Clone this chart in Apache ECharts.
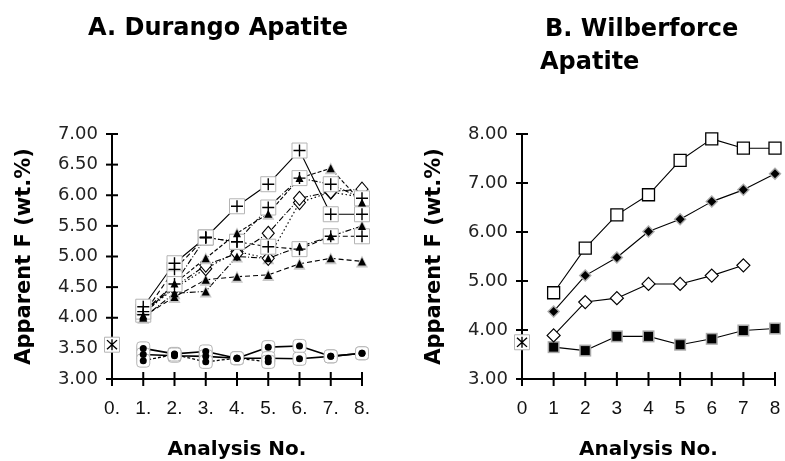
<!DOCTYPE html>
<html>
<head>
<meta charset="utf-8">
<script src="https://cdn.jsdelivr.net/npm/echarts@6/dist/echarts.min.js"></script>
<style>html,body{margin:0;padding:0;background:#fff;}#c{width:785px;height:461px;}</style>
</head>
<body>
<div id="c"></div>
<script>
// ---- data ----
const analysisNo = [1, 2, 3, 4, 5, 6, 7, 8];
const stdNo = 0;
const xTicks = [0, 1, 2, 3, 4, 5, 6, 7, 8];
const yTicksA = [3.0, 3.5, 4.0, 4.5, 5.0, 5.5, 6.0, 6.5, 7.0];
const yTicksB = [3.0, 4.0, 5.0, 6.0, 7.0, 8.0];

// A. Durango apatite
const durPlusA = [4.18, 4.89, 5.31, 5.82, 6.18, 6.73, 5.69, 5.69];
const durPlusB = [4.10, 4.55, 5.31, 5.24, 5.80, 6.28, 6.18, 5.95];
const durPlusC = [4.05, 4.79, 5.31, 5.24, 5.16, 5.12, 5.33, 5.33];
const durTriA = [4.02, 4.34, 4.62, 4.67, 4.70, 4.88, 4.97, 4.92];
const durTriB = [4.04, 4.56, 4.97, 5.38, 5.70, 6.28, 6.44, 5.88];
const durTriC = [4.00, 4.40, 4.43, 5.00, 4.97, 5.16, 5.33, 5.50];
const durDiaA = [4.10, 4.50, 4.86, 5.05, 5.38, 5.95, 6.06, 6.10];
const durDiaB = [4.08, 4.48, 4.80, 5.08, 4.97, 5.88, 6.05, 5.97];
const durCirA = [3.50, 3.41, 3.45, 3.34, 3.52, 3.54, 3.37, 3.42];
const durCirB = [3.40, 3.38, 3.37, 3.34, 3.34, 3.33, 3.37, 3.42];
const durCirC = [3.30, 3.40, 3.28, 3.34, 3.28];
const durStd = 3.56;

// B. Wilberforce apatite
const wilSqOpen = [4.76, 5.67, 6.35, 6.76, 7.46, 7.90, 7.71, 7.71];
const wilDiaFill = [4.38, 5.11, 5.48, 6.01, 6.26, 6.62, 6.86, 7.19];
const wilDiaOpen = [3.89, 4.57, 4.65, 4.94, 4.94, 5.11, 5.32];
const wilSqFill = [3.65, 3.58, 3.87, 3.87, 3.70, 3.82, 3.99, 4.03];
const wilStd = 3.75;

// ---- symbols / styles ----
const PLUS = 'path://M5.3,0h1.4v12h-1.4z M0,5.3h12v1.4h-12z';
const STAR = 'path://M5.3,0h1.4v12h-1.4z M0.5,1.5l1,-1l10,10l-1,1z M10.5,0.5l1,1l-10,10l-1,-1z';
const GRAY = '#b4b4b4';

const mk = {
  plus: [
    {symbol: 'rect', size: 15, style: {color: '#fff', borderColor: GRAY, borderWidth: 1}},
    {symbol: PLUS, size: 12, style: {color: '#000'}}
  ],
  tri: [
    {symbol: 'triangle', size: 12, style: {color: '#c8c8c8'}},
    {symbol: 'triangle', size: 8, style: {color: '#000'}}
  ],
  diaOpenL: [
    {symbol: 'diamond', size: [12, 14], style: {color: '#fff', borderColor: '#000', borderWidth: 1.1}}
  ],
  circ: [
    {symbol: 'roundRect', size: [13, 13], style: {color: '#fff', borderColor: GRAY, borderWidth: 1}},
    {symbol: 'circle', size: 7, style: {color: '#000'}}
  ],
  std: [
    {symbol: 'rect', size: 15, style: {color: '#fff', borderColor: GRAY, borderWidth: 1}},
    {symbol: STAR, size: 11, style: {color: '#000'}}
  ],
  sqOpen: [
    {symbol: 'rect', size: 12, style: {color: '#fff', borderColor: '#000', borderWidth: 1.3}}
  ],
  diaFill: [
    {symbol: 'diamond', size: 13, style: {color: '#aaa'}},
    {symbol: 'diamond', size: 9, style: {color: '#000'}}
  ],
  diaOpenR: [
    {symbol: 'diamond', size: 13, style: {color: '#fff', borderColor: '#000', borderWidth: 1.2}}
  ],
  sqFill: [
    {symbol: 'rect', size: 12, style: {color: '#a8a8a8'}},
    {symbol: 'rect', size: 9, style: {color: '#000'}}
  ]
};

const series = [];
function add(axis, xsArr, vals, layers, lineType, lineWidth) {
  const data = vals.map((v, i) => [xsArr[i], v]);
  if (lineType) {
    series.push({
      type: 'line', xAxisIndex: axis, yAxisIndex: axis, data: data,
      symbol: 'none', showSymbol: false, silent: true, z: 2,
      lineStyle: {color: '#000', width: lineWidth || 1.1, type: lineType}
    });
  }
  layers.forEach((l, k) => {
    series.push({
      type: 'scatter', xAxisIndex: axis, yAxisIndex: axis, data: data,
      symbol: l.symbol, symbolSize: l.size, itemStyle: Object.assign({opacity: 1}, l.style),
      silent: true, z: 3 + k
    });
  });
}

// Panel A (axes 0)
add(0, analysisNo, durCirA, mk.circ, 'solid', 1.6);
add(0, analysisNo, durCirB, mk.circ, 'solid', 1.6);
add(0, analysisNo, durCirC, mk.circ, [3, 2], 1.3);
add(0, analysisNo, durTriA, mk.tri, [5, 3]);
add(0, analysisNo, durTriC, mk.tri, [6, 2, 1, 2]);
add(0, analysisNo, durDiaB, mk.diaOpenL, [1.5, 2.5]);
add(0, analysisNo, durDiaA, mk.diaOpenL, [6, 2, 1, 2]);
add(0, analysisNo, durTriB, mk.tri, [4, 2]);
add(0, analysisNo, durPlusC, mk.plus, [5, 3]);
add(0, analysisNo, durPlusB, mk.plus, [6, 2, 1, 2]);
add(0, analysisNo, durPlusA, mk.plus, 'solid');
add(0, [stdNo], [durStd], mk.std, null);

// Panel B (axes 1)
add(1, analysisNo, wilSqFill, mk.sqFill, 'solid');
add(1, analysisNo, wilDiaOpen, mk.diaOpenR, 'solid');
add(1, analysisNo, wilDiaFill, mk.diaFill, 'solid');
add(1, analysisNo, wilSqOpen, mk.sqOpen, 'solid');
add(1, [stdNo], [wilStd], mk.std, null);

const nameStyleX = {fontFamily: 'DejaVu Sans', fontWeight: 'bold', fontSize: 20, color: '#000'};
const nameStyleY = {fontFamily: 'DejaVu Sans', fontWeight: 'bold', fontSize: 21, color: '#000'};

function xAx(grid, fmt) {
  return {
    type: 'value', gridIndex: grid,
    min: xTicks[0], max: xTicks[xTicks.length - 1], interval: 1,
    name: 'Analysis No.', nameLocation: 'middle', nameGap: 61, nameTextStyle: nameStyleX,
    axisLine: {show: false, onZero: false},
    axisTick: {show: false},
    axisLabel: {show: true, margin: 20, formatter: fmt, fontFamily: 'Liberation Sans', fontSize: 19, color: '#111'},
    splitLine: {show: false}
  };
}
function yAx(grid, ticks) {
  return {
    type: 'value', gridIndex: grid,
    min: ticks[0], max: ticks[ticks.length - 1], interval: ticks[1] - ticks[0],
    name: 'Apparent F (wt.%)', nameLocation: 'middle', nameRotate: 90, nameGap: 77, nameTextStyle: nameStyleY,
    axisLine: {show: false, onZero: false},
    axisTick: {show: false},
    axisLabel: {show: true, margin: 14, formatter: v => v.toFixed(2), fontFamily: 'DejaVu Sans', fontSize: 18, color: '#222'},
    splitLine: {show: false}
  };
}

const titleStyle = {fontFamily: 'DejaVu Sans', fontWeight: 'bold', fontSize: 24, color: '#000'};

const option = {
  animation: false,
  title: [
    {text: 'A. Durango Apatite', left: 88, top: 17, padding: 0, textStyle: titleStyle},
    {text: 'B. Wilberforce', left: 545, top: 18, padding: 0, textStyle: titleStyle},
    {text: 'Apatite', left: 540, top: 51, padding: 0, textStyle: titleStyle}
  ],
  grid: [
    {left: 112, top: 134, width: 250, height: 245, containLabel: false, outerBoundsMode: 'none'},
    {left: 522, top: 134, width: 253, height: 245, containLabel: false, outerBoundsMode: 'none'}
  ],
  xAxis: [xAx(0, v => v + '.'), xAx(1, v => String(v))],
  yAxis: [yAx(0, yTicksA), yAx(1, yTicksB)],
  series: series
};

const chart = echarts.init(document.getElementById('c'));
chart.setOption(option);

// Axis lines and crossing tick marks, positioned through the chart's own scales
function axisMarks() {
  const els = [];
  const bar = (x, y, w, h) => ({type: 'rect', silent: true, z: 1, shape: {x: x, y: y, width: w, height: h}, style: {fill: '#000'}});
  [[0, xTicks, yTicksA], [1, xTicks, yTicksB]].forEach(function (cfg) {
    const g = cfg[0], xt = cfg[1], yt = cfg[2];
    const px = (x, y) => chart.convertToPixel({gridIndex: g}, [x, y]);
    const o = px(xt[0], yt[0]);
    const xe = px(xt[xt.length - 1], yt[0]);
    const ye = px(xt[0], yt[yt.length - 1]);
    els.push(bar(o[0], o[1] - 1, xe[0] - o[0] + 1, 2));
    els.push(bar(o[0] - 1, ye[1], 2, o[1] - ye[1] + 1));
    xt.forEach(function (v) {
      const p = px(v, yt[0]);
      els.push(bar(p[0] - 1, p[1] - 7, 2, 14));
    });
    yt.forEach(function (v) {
      const p = px(xt[0], v);
      els.push(bar(p[0] - 6, p[1] - 1, 12, 2));
    });
  });
  return els;
}
chart.setOption({graphic: axisMarks()});
</script>
</body>
</html>
